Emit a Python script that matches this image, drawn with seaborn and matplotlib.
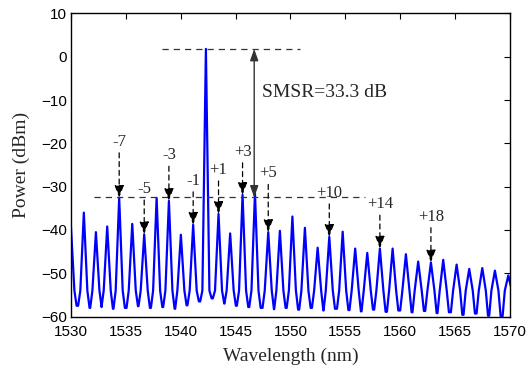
import numpy as np
import pandas as pd
import matplotlib
matplotlib.use("Agg")
import matplotlib.pyplot as plt
import seaborn as sns

# ---- data ----
mode_index = list(range(-11, 25))
peak_wl = [1530.00, 1531.18, 1532.28, 1533.31, 1534.40, 1535.59, 1536.68, 1537.81,
           1538.93, 1540.02, 1541.14, 1542.30, 1543.45, 1544.51, 1545.64, 1546.77,
           1547.98, 1549.04, 1550.18, 1551.32, 1552.48, 1553.54, 1554.76, 1555.90,
           1557.00, 1558.15, 1559.31, 1560.52, 1561.64, 1562.80, 1563.92, 1565.14,
           1566.29, 1567.48, 1568.63, 1569.85]
peak_db = [-39.0, -36.0, -40.5, -39.2, -32.6, -38.6, -41.0, -32.6,
           -33.3, -41.1, -38.8, 1.8, -36.3, -40.8, -31.9, -31.5,
           -40.5, -40.2, -36.9, -39.5, -44.1, -41.6, -40.4, -44.3,
           -45.3, -44.3, -44.3, -45.6, -47.3, -47.5, -46.9, -48.0,
           -49.0, -48.8, -49.4, -50.5]
# floor level between consecutive peaks (and after the last one)
valley_db = [-57.5, -58.0, -57.8, -58.2, -58.0, -57.6, -58.0, -57.8, -58.2, -57.4,
             -56.5, -55.8, -57.0, -57.5, -57.8, -58.0, -58.3, -58.0, -58.4, -58.0,
             -58.6, -58.2, -58.5, -58.8, -58.4, -58.9, -58.6, -59.0, -58.7, -59.2,
             -59.0, -59.6, -59.3, -59.8, -59.9, -59.5]
knee_db = -54.0

labels = ["-7", "-5", "-3", "-1", "+1", "+3", "+5", "+10", "+14", "+18"]
label_modes = [-7, -5, -3, -1, 1, 3, 5, 10, 14, 18]
label_y = [-19.6, -30.5, -22.7, -28.6, -26.1, -21.9, -26.9, -31.4, -34.0, -36.9]

main_db = 1.8
side_db = -32.5
smsr_text = "SMSR=33.3 dB"

# ---- assemble the trace (valley - knee - peak - knee - valley) ----
wl, db = [], []
for i, (p, h) in enumerate(zip(peak_wl, peak_db)):
    left_v = valley_db[i - 1] if i > 0 else valley_db[0]
    wl += [p - 0.52, p - 0.32, p, p + 0.32, p + 0.52]
    db += [left_v, knee_db, h, knee_db, valley_db[i]]
df = pd.DataFrame({"Wavelength": wl, "Power": db})

sns.set_style("white")
plt.rcParams["font.family"] = ["Liberation Sans", "DejaVu Sans"]

fig = plt.figure(figsize=(5.29, 3.72), dpi=100)
ax = fig.add_axes([0.134, 0.149, 0.830, 0.815])

sns.lineplot(data=df, x="Wavelength", y="Power", sort=False, ax=ax,
             color="#0000ff", lw=1.6, estimator=None)

ax.set_xlim(1530, 1570)
ax.set_ylim(-60, 10)
ax.set_xticks(np.arange(1530, 1571, 5))
ax.set_yticks(np.arange(-60, 11, 10))
ax.tick_params(direction="in", top=True, right=True, length=4, width=0.8,
               labelsize=11, colors="black")
ax.tick_params(axis="x", pad=6)
ax.tick_params(axis="y", pad=3)
for s in ax.spines.values():
    s.set_color("black")
    s.set_linewidth(1.0)

serif = ["Liberation Serif", "DejaVu Serif"]
ax.set_xlabel("Wavelength (nm)", family=serif, fontsize=14, labelpad=6)
ax.set_ylabel("Power (dBm)", family=serif, fontsize=14, labelpad=8)

# dashed reference lines
ax.plot([1538.3, 1550.9], [main_db, main_db], ls=(0, (5, 4)), color="#333333", lw=0.9)
ax.plot([1532.1, 1556.8], [side_db, side_db], ls=(0, (5, 4)), color="#333333", lw=0.9)

# SMSR double arrow
ax.annotate("", xy=(1546.7, main_db), xytext=(1546.7, side_db),
            arrowprops=dict(arrowstyle="<|-|>,head_length=0.7,head_width=0.25",
                            color="#333333", lw=1.0, shrinkA=0, shrinkB=0))
ax.text(1547.4, -8.3, smsr_text, family=serif, fontsize=14, va="center", ha="left")

# mode labels with dashed arrows
for lab, m, ly in zip(labels, label_modes, label_y):
    k = mode_index.index(m)
    x = peak_wl[k]
    ax.text(x, ly, lab, family=serif, fontsize=12, ha="center", va="center")
    ax.annotate("", xy=(x, peak_db[k]), xytext=(x, ly - 2.6),
                arrowprops=dict(arrowstyle="-|>,head_length=0.75,head_width=0.28",
                                color="black", lw=0.9, ls=(0, (4, 3)),
                                shrinkA=0, shrinkB=0))

fig.savefig("out.png", dpi=100)
